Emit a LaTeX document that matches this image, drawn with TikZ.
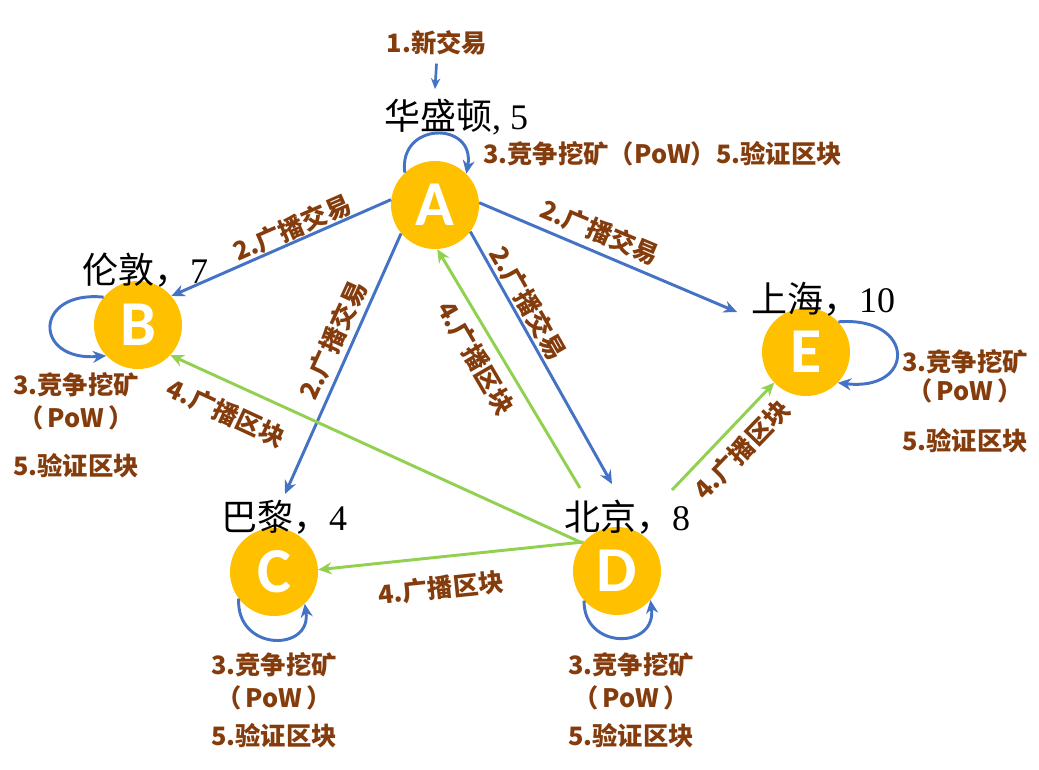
\documentclass[tikz,border=0pt]{standalone}
\usepackage{fontspec}
\newfontfamily\cjk{Noto Sans CJK SC}
\newfontfamily\serifd{Liberation Serif}
\newfontfamily\carlito{Carlito}
\usetikzlibrary{arrows.meta}
\definecolor{nodegold}{HTML}{FFC000}
\definecolor{txblue}{HTML}{4472C4}
\definecolor{blkgreen}{HTML}{92D050}
\definecolor{labbrown}{HTML}{843C0C}
\begin{document}
\begin{tikzpicture}[x=0.75pt,y=-0.75pt,
  city/.style={circle, fill=nodegold, minimum size=66pt, inner sep=0pt,
    font=\carlito\bfseries\fontsize{48}{48}\selectfont, text=white},
  title/.style={font=\fontsize{27}{30}\selectfont, text=black, inner sep=0pt},
  lab/.style={font=\cjk\bfseries\fontsize{19}{22}\selectfont, text=labbrown, inner sep=0pt, align=center},
  txarrow/.style={draw=txblue, line width=2.2pt, -{Stealth[length=10pt,width=9pt]}},
  blkarrow/.style={draw=blkgreen, line width=2.2pt, -{Stealth[length=10pt,width=9pt]}}]
\useasboundingbox (0,0) rectangle (1039,769);
\fill[white] (0,0) rectangle (1039,769);

% nodes
\node[city] (A) at (435,205) {A};
\node[city] (B) at (138,325) {B};
\node[city] (C) at (274,572) {C};
\node[city] (D) at (617,571) {D};
\node[city] (E) at (806,352) {E};

% titles
\node[title] (tA) at (456,117) {{\cjk 华盛顿}{\serifd , 5}};
\node[title] (tB) at (145,270) {{\cjk 伦敦，}{\serifd 7}};
\node[title] (tE) at (823,299) {{\cjk 上海，}{\serifd 10}};
\node[title] (tC) at (284,517) {{\cjk 巴黎，}{\serifd 4}};
\node[title] (tD) at (627,517) {{\cjk 北京，}{\serifd 8}};

% free ends
\coordinate (in2) at (435,89);
\coordinate (eA) at (737,312);
\coordinate (cA) at (285,494);
\coordinate (dA) at (612,484);
\coordinate (dAs) at (580,488);
\coordinate (dEs) at (672,490);

% new transaction
\node[lab] (t1) at (437,43) {1.新交易};
\draw[txarrow, line width=2pt, -{Stealth[length=8pt,width=7pt]}, shorten <=6pt] (t1.south) -- (in2);

% broadcast transactions
\draw[txarrow] (A.173) -- (B.41);
\draw[txarrow] (A.3) -- (eA);
\draw[txarrow] (A.220) -- (cA);
\draw[txarrow] (A.-37) -- (dA);

% broadcast blocks
\draw[blkarrow] (dAs) -- (A.-87);
\draw[blkarrow] (D.141) -- (B.-43);
\draw[blkarrow] (D.139) -- (C.3);
\draw[blkarrow] (dEs) -- (E.-136);

% self loops
\draw[txarrow] (A.133) .. controls (398,121) and (476,121) .. (A.45);
\draw[txarrow] (B.141) .. controls (33,290) and (33,362) .. (B.-136);
\draw[txarrow] (C.-143) .. controls (236,652) and (312,652) .. (C.-46);
\draw[txarrow] (D.-138) .. controls (583,650) and (657,650) .. (D.-41);
\draw[txarrow] (E.43) .. controls (916,316) and (916,392) .. (E.-44);

% edge labels
\node[lab, rotate=23.6] (lAB) at (292,228) {2.广播交易};
\node[lab, rotate=-22.8] (lAE) at (600,232) {2.广播交易};
\node[lab, rotate=65.5] (lAC) at (333,340) {2.广播交易};
\node[lab, rotate=-60.3] (lAD) at (528,303) {2.广播交易};
\node[lab, rotate=-59.7] (lDA) at (476,358) {4.广播区块};
\node[lab, rotate=-24.8] (lDB) at (226,413) {4.广播区块};
\node[lab, rotate=6] (lDC) at (441,588) {4.广播区块};
\node[lab, rotate=46] (lDE) at (742,450) {4.广播区块};

% loop labels
\node[lab, anchor=west] (mA) at (483,154) {3.竞争挖矿（PoW）5.验证区块};
\node[lab] (mB) at (76,425) {3.竞争挖矿\\[3pt]（\,PoW\,）\\[14pt]5.验证区块};
\node[lab] (mC) at (274,700) {3.竞争挖矿\\[3pt]（\,PoW\,）\\[6pt]5.验证区块};
\node[lab] (mD) at (631,700) {3.竞争挖矿\\[3pt]（\,PoW\,）\\[6pt]5.验证区块};
\node[lab] (mE) at (965,401) {3.竞争挖矿\\[0pt]（\,PoW\,）\\[15pt]5.验证区块};
\end{tikzpicture}
\end{document}
